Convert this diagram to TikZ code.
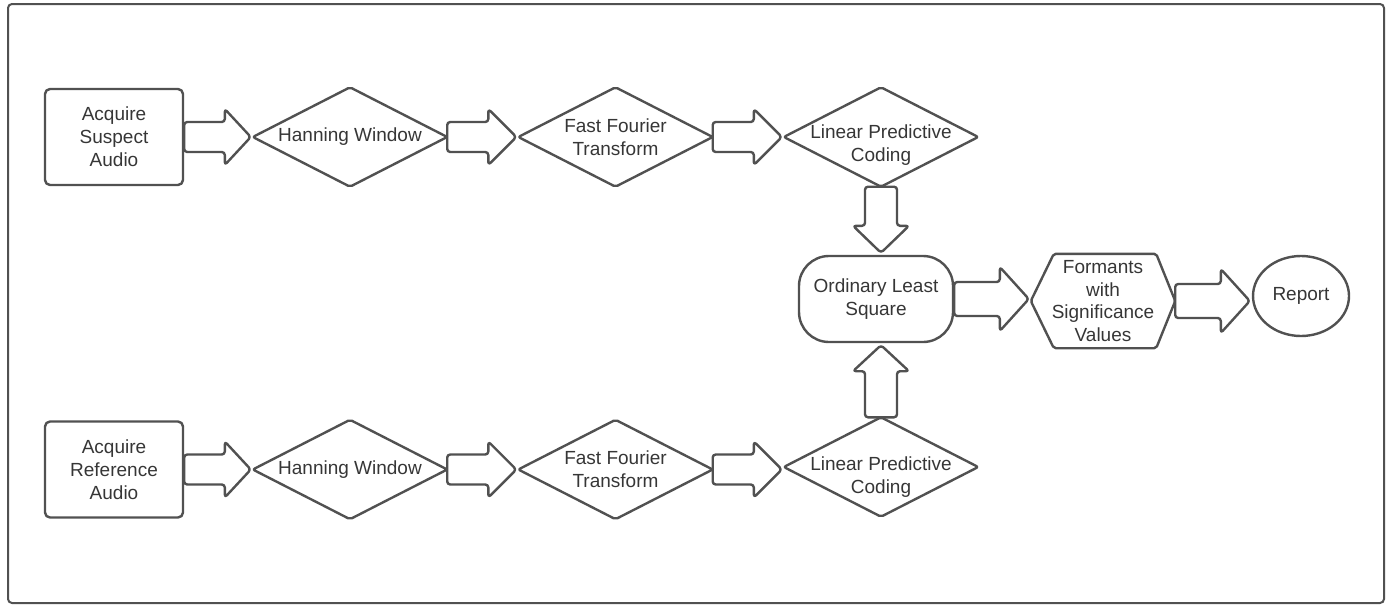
\documentclass[tikz,border=0pt]{standalone}
\usepackage{fontspec}
\setmainfont{Liberation Sans}
\usetikzlibrary{calc,shapes.geometric}
\definecolor{ln}{HTML}{515151}
\definecolor{tx}{HTML}{363636}
% horizontal block arrow: start anchor, end anchor, body half, head half, head length
\newcommand\harrow[5]{\draw[arrsh] let \p1=(#1), \p2=(#2) in
  (\x1,\y1+#3) -- (\x2-2pt-#5,\y1+#3) -- (\x2-2pt-#5,\y1+#4) -- (\x2-2pt,\y1)
  -- (\x2-2pt-#5,\y1-#4) -- (\x2-2pt-#5,\y1-#3) -- (\x1,\y1-#3) -- cycle;}
% downward block arrow
\newcommand\darrow[5]{\draw[arrsh] let \p1=(#1), \p2=(#2) in
  (\x1-#3,\y1) -- (\x1-#3,\y2+2pt+#5) -- (\x1-#4,\y2+2pt+#5) -- (\x1,\y2+2pt)
  -- (\x1+#4,\y2+2pt+#5) -- (\x1+#3,\y2+2pt+#5) -- (\x1+#3,\y1) -- cycle;}
% upward block arrow
\newcommand\uarrow[5]{\draw[arrsh] let \p1=(#1), \p2=(#2) in
  (\x1-#3,\y1) -- (\x1-#3,\y2-2pt-#5) -- (\x1-#4,\y2-2pt-#5) -- (\x1,\y2-2pt)
  -- (\x1+#4,\y2-2pt-#5) -- (\x1+#3,\y2-2pt-#5) -- (\x1+#3,\y1) -- cycle;}
\begin{document}
\begin{tikzpicture}[x=1pt,y=-1pt,
  txt/.style={font=\fontsize{19}{22.8}\selectfont, text=tx, align=center, inner sep=0pt},
  shp/.style={draw=ln, line width=2.4pt, line join=round},
  arrsh/.style={draw=ln, line width=2.4pt, line join=round, rounded corners=3pt, fill=white},
  boxn/.style={txt, shp, rounded corners=5pt, minimum width=138pt, minimum height=96pt},
  dian/.style={txt, minimum width=194pt, minimum height=99pt},
  dia/.style={shp, rounded corners=2pt}
]
\useasboundingbox (0,0) rectangle (1399,608);
\draw[draw=ln, line width=2pt, rounded corners=4pt] (8,4) rectangle (1384,603);

% top row
\node[boxn] (as) at (114,137) {Acquire\\Suspect\\Audio};
\node[dian] (h1) at (350,137) {Hanning Window};
\node[dian] (f1) at (615.5,137) {Fast Fourier\\Transform};
\node[dian] (l1) at (881,137) {};
\node[txt, yshift=-8pt] (l1t) at (l1.center) {Linear Predictive\\Coding};

% bottom row
\node[boxn] (ar) at (114,469.5) {Acquire\\Reference\\Audio};
\node[dian] (h2) at (350,469.5) {Hanning Window};
\node[dian] (f2) at (615.5,469.5) {Fast Fourier\\Transform};
\node[dian] (l2) at (881,467) {};
\node[txt, yshift=-10pt] (l2t) at (l2.center) {Linear Predictive\\Coding};

% diamonds
\foreach \n in {h1,f1,l1,h2,f2,l2}{
  \draw[dia] (\n.west) -- (\n.north) -- (\n.east) -- (\n.south) -- cycle;
}

% middle
\node[txt, shp, rounded corners=30pt, minimum width=154pt, minimum height=86pt] (ols) at (876,299) {Ordinary Least\\Square};
\node[txt, minimum width=144pt, minimum height=94pt] (fm) at (1103,301) {Formants\\with\\Significance\\Values};
\draw[shp, rounded corners=2pt] (fm.west) -- ($(fm.north west)+(23,0)$) -- ($(fm.north east)+(-19,0)$) -- (fm.east)
  -- ($(fm.south east)+(-19,0)$) -- ($(fm.south west)+(23,0)$) -- cycle;
\node[txt, shp, ellipse, minimum width=96pt, minimum height=80pt] (rp) at (1301,296) {Report};

% arrows
\harrow{as.east}{h1.west}{15pt}{28pt}{26pt}
\harrow{h1.east}{f1.west}{15pt}{28pt}{28pt}
\harrow{f1.east}{l1.west}{15pt}{28pt}{28pt}
\harrow{ar.east}{h2.west}{15pt}{28pt}{26pt}
\harrow{h2.east}{f2.west}{15pt}{28pt}{28pt}
\harrow{f2.east}{l2.west}{15pt}{28pt}{28pt}
\darrow{l1.south}{ols.north}{16pt}{28pt}{27pt}
\uarrow{l2.north}{ols.south}{16pt}{28pt}{26pt}
\harrow{ols.east}{fm.west}{17pt}{32pt}{29pt}
\harrow{fm.east}{rp.west}{17pt}{32pt}{29pt}
\end{tikzpicture}
\end{document}
